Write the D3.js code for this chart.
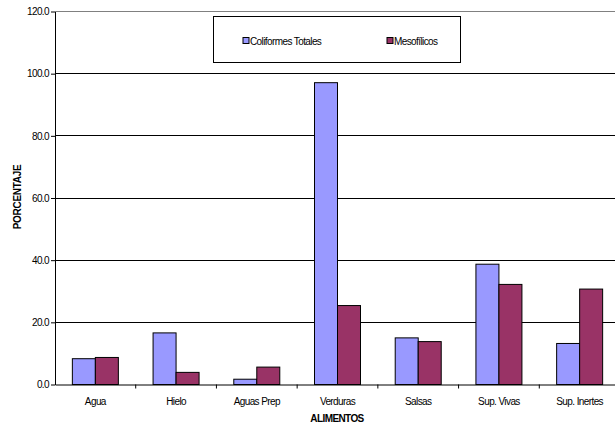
<!DOCTYPE html>
<html><head><meta charset="utf-8">
<script src="https://cdn.jsdelivr.net/npm/d3@7"></script>
<style>
html,body{margin:0;padding:0;background:#fff;}
text{font-family:"Liberation Sans",Arial,sans-serif;}
</style></head>
<body><svg id="c" width="615" height="428"></svg>
<script>
const categories = ["Agua","Hielo","Aguas Prep","Verduras","Salsas","Sup. Vivas","Sup. Inertes"];
const seriesNames = ["Coliformes Totales","Mesofílicos"];
const coliformes = [8.3,16.6,1.7,97.1,15.0,38.7,13.2];
const mesofilicos = [8.7,3.9,5.6,25.4,13.8,32.2,30.7];
const yTicks = [0,20,40,60,80,100,120];
const colors = ["#9999FF","#993366"];

const svg = d3.select("#c");
const m = {l:55, r:620, t:11.5, b:384.5};
const x = d3.scaleBand().domain(categories).range([m.l, m.r]).paddingInner(0).paddingOuter(0);
const y = d3.scaleLinear().domain([0,120]).range([m.b, m.t]);
const xs = d3.scaleBand().domain(seriesNames).range([0, 46]);
const off = (x.bandwidth()-46)/2;

// gridlines
svg.append("g").selectAll("line").data(yTicks.filter(d=>d>0)).join("line")
  .attr("x1",m.l).attr("x2",m.r).attr("y1",d=>y(d)).attr("y2",d=>y(d))
  .attr("stroke",d=>d===120?"#808080":"#000").attr("stroke-width",1).attr("shape-rendering","crispEdges");

// bars
const data = [coliformes, mesofilicos];
data.forEach((vals,si)=>{
  svg.append("g").selectAll("rect").data(vals).join("rect")
    .attr("x",(d,i)=>x(categories[i])+off+xs(seriesNames[si]))
    .attr("width",xs.bandwidth())
    .attr("y",d=>y(d)).attr("height",d=>y(0)-y(d))
    .attr("fill",colors[si]).attr("stroke","#000").attr("stroke-width",1);
});

// y axis
const ya = svg.append("g").attr("transform",`translate(${m.l},0)`)
  .call(d3.axisLeft(y).tickValues(yTicks).tickFormat(d3.format(".1f")).tickSize(4).tickSizeOuter(0));
ya.select(".domain").attr("stroke","#000");
ya.selectAll("text").attr("font-size","10px").attr("fill","#000").attr("letter-spacing","-0.6px").attr("dx","1");

// x axis
const xa = svg.append("g").attr("transform",`translate(0,${m.b})`)
  .call(d3.axisBottom(x).tickSize(0).tickSizeOuter(0));
xa.select(".domain").attr("stroke","#000");
xa.selectAll("text").attr("font-size","10px").attr("fill","#000").attr("letter-spacing","-0.6px").attr("dy","1.75em");
// tick marks at band boundaries
svg.append("g").selectAll("line").data(categories.slice(1)).join("line")
  .attr("x1",d=>x(d)).attr("x2",d=>x(d)).attr("y1",m.b).attr("y2",m.b+4)
  .attr("stroke","#000");

// axis titles
svg.append("text").attr("transform","translate(21,197) rotate(-90)")
  .attr("text-anchor","middle").attr("font-size","10px").attr("font-weight","bold")
  .attr("letter-spacing","-0.3px").text("PORCENTAJE");
svg.append("text").attr("x",337).attr("y",422)
  .attr("text-anchor","middle").attr("font-size","10px").attr("font-weight","bold")
  .attr("letter-spacing","-0.6px").text("ALIMENTOS");

// legend
const lg = svg.append("g");
lg.append("rect").attr("x",213.5).attr("y",16.5).attr("width",247).attr("height",46)
  .attr("fill","#fff").attr("stroke","#000");
const lx = [243,387];
seriesNames.forEach((n,i)=>{
  lg.append("rect").attr("x",lx[i]).attr("y",37.5).attr("width",6).attr("height",6)
    .attr("fill",colors[i]).attr("stroke","#000");
  lg.append("text").attr("x",lx[i]+7).attr("y",44.5).attr("font-size","10px")
    .attr("letter-spacing","-0.6px").text(n);
});
</script></body></html>
